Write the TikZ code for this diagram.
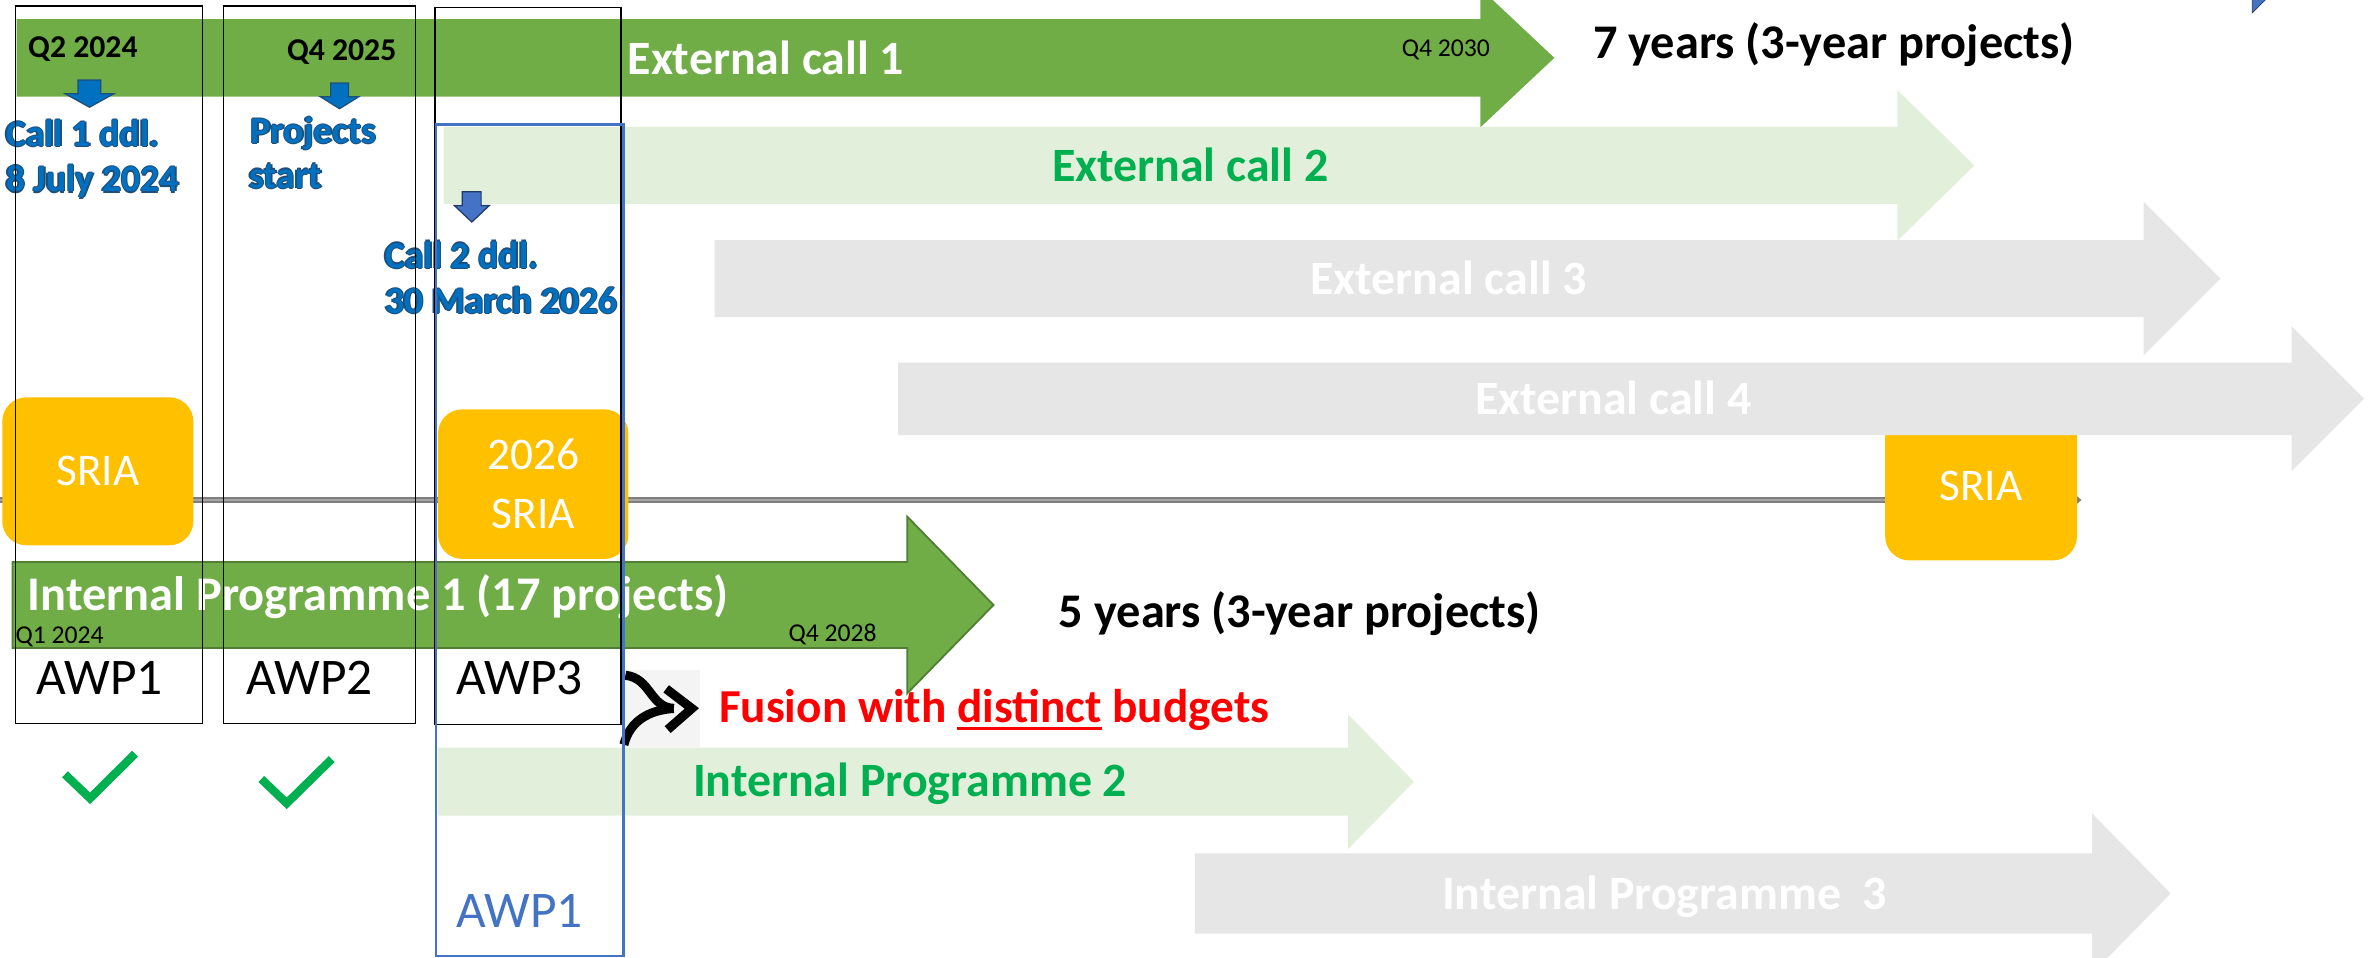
\documentclass[tikz,border=0pt]{standalone}
\usepackage{fontspec}
\setmainfont{Carlito}
\usetikzlibrary{arrows.meta}
\definecolor{gA}{HTML}{70AD47}
\definecolor{gAd}{HTML}{507E32}
\definecolor{gL}{HTML}{E2EFDA}
\definecolor{grL}{HTML}{E7E6E6}
\definecolor{gT}{HTML}{00B050}
\definecolor{yel}{HTML}{FFC000}
\definecolor{bBox}{HTML}{4472C4}
\definecolor{bCall}{HTML}{0070C0}
\definecolor{bDark}{HTML}{1F4E79}
\definecolor{bDarkB}{HTML}{203864}
\definecolor{lineG}{HTML}{7F7F7F}
\definecolor{lineL}{HTML}{A6A6A6}
\definecolor{fusebg}{HTML}{F4F4F4}
\definecolor{redT}{HTML}{FF0000}
% block arrow: style, x0, x1 (head base), xt (tip), yc, body half, head half
\newcommand\blockarrow[7]{%
  \path[#1] (#2,{#5-#6}) -- (#3,{#5-#6}) -- (#3,{#5-#7}) -- (#4,#5) -- (#3,{#5+#7}) -- (#3,{#5+#6}) -- (#2,{#5+#6}) -- cycle;}
% down arrow: style, shaft left, shaft right, top, head y, head left, head right, tip y
\newcommand\downblock[8]{%
  \path[#1] (#2,#4) -- (#3,#4) -- (#3,#5) -- (#7,#5) -- ({(#6+#7)/2},#8) -- (#6,#5) -- (#2,#5) -- cycle;}
\newcommand\outltxt[1]{\rlap{\color{bDark}\kern-.9pt#1}\rlap{\color{bDark}\kern.9pt#1}\rlap{\color{bDark}\raisebox{.9pt}{#1}}\rlap{\color{bDark}\raisebox{-.9pt}{#1}}#1}
\newcommand\ulx[1]{\setbox0=\hbox{#1}\rlap{\rule[-5.2pt]{\wd0}{2.2pt}}\box0\relax}
\tikzset{
  lbl/.style={inner sep=0pt, outer sep=0pt},
  big/.style={lbl, font=\fontsize{31.7}{38}\selectfont\bfseries},
  bigger/.style={lbl, font=\fontsize{32}{38}\selectfont\bfseries},
  smallq/.style={lbl, font=\fontsize{17}{20}\selectfont},
  boldq/.style={lbl, font=\fontsize{21}{25}\selectfont\bfseries},
  calltxt/.style={lbl, font=\fontsize{25}{30}\selectfont\bfseries, text=bCall, anchor=base west},
  awp/.style={lbl, font=\fontsize{34}{40}\selectfont, anchor=base},
  sria/.style={fill=yel, rounded corners=16pt, inner sep=0pt, text=white,
    font=\fontsize{30}{39}\selectfont, align=center},
  boxK/.style={draw=black, line width=1pt},
  boxB/.style={draw=bBox, line width=1.7pt},
  check/.style={draw=gT, line width=5.5pt},
  fusearrow/.style={draw=black, line width=6pt},
}
\begin{document}
\begin{tikzpicture}[x=1pt,y=-1pt]
\path[use as bounding box] (0,0) rectangle (1568.3,634.2);
\clip (0,0) rectangle (1568.3,634.2);

% timeline
\coordinate (tlS) at (0,331);
\coordinate (tlE) at (1378,331);
\draw[lineG, line width=4.5pt, -{Triangle[length=5pt,width=8pt]}] (tlS) -- (tlE);
\draw[lineL, line width=1.4pt, shorten >=6pt] (tlS) -- (tlE);

% SRIA boxes
\node[sria, minimum width=126.5pt, minimum height=98pt] (sriaA) at (64.75,312) {SRIA};
\node[sria, minimum width=126pt, minimum height=99pt] (sriaB) at (353,320.5) {2026\\SRIA};
\node[sria, minimum width=127pt, minimum height=98pt] (sriaC) at (1311.5,322) {SRIA};

% external calls
\blockarrow{fill=gA}{11}{980}{1029}{38.3}{25.7}{46}
\blockarrow{fill=gL}{293.7}{1256}{1307}{109.5}{25.5}{50}
\blockarrow{fill=grL}{473}{1419}{1470}{184.5}{25.5}{51}
\blockarrow{fill=grL}{594.5}{1517}{1565}{264}{24}{48}

% internal programmes
\blockarrow{fill=gA, draw=gAd, line width=1.2pt}{8.3}{600.6}{657.7}{400.5}{28.5}{58.5}
\blockarrow{fill=gL}{290}{892.5}{936}{517.5}{22.5}{44.5}
\blockarrow{fill=grL}{791}{1385}{1437}{591.5}{26.5}{53}

% texts on arrows
\node[big, text=white, anchor=base] (ec1) at (507,49) {External call 1};
\node[big, text=gT, anchor=base] (ec2) at (788,120) {External call 2};
\node[big, text=white, anchor=base] (ec3) at (959,195) {External call 3};
\node[big, text=white, anchor=base] (ec4) at (1068,274.5) {External call 4};
\node[smallq, anchor=base west] (q2030) at (928,37.5) {Q4 2030};
\node[boldq, anchor=base west] (q2024) at (18.7,38) {Q2 2024};
\node[boldq, anchor=base west] (q2025) at (190,40) {Q4 2025};
\node[bigger, anchor=base west] (y7) at (1054.6,39) {7 years (3-year projects)};

\node[bigger, text=white, anchor=base west] (ip1) at (18.3,404) {Internal Programme 1 (17 projects)};
\node[smallq, anchor=base west] (q2024b) at (10.3,426) {Q1 2024};
\node[smallq, anchor=base west] (q2028) at (522,425) {Q4 2028};
\node[bigger, anchor=base west] (y5) at (701,415.6) {5 years (3-year projects)};
\node[big, text=gT, anchor=base] (ip2) at (602.5,527) {Internal Programme 2};
\node[big, text=white, anchor=base] (ip3) at (1102,602) {Internal Programme\ \ 3};

% call annotations
\downblock{fill=bCall, draw=bDark, line width=0.8pt}{51.6}{66.7}{53}{62}{43}{75.5}{71}
\downblock{fill=bCall, draw=bDark, line width=0.8pt}{219}{230.7}{55}{64}{212}{237.6}{72}
\downblock{fill=bBox, draw=bDarkB, line width=0.8pt}{306}{318.5}{127}{136}{300.7}{324}{147}
\node[calltxt] (c1a) at (4,97) {\outltxt{Call 1 ddl.}};
\node[calltxt] (c1b) at (4,127) {\outltxt{8 July 2024}};
\node[calltxt] (ps1) at (166,95) {\outltxt{Projects}};
\node[calltxt] (ps2) at (165,124.6) {\outltxt{start}};
\node[calltxt] (c2a) at (255,177.6) {\outltxt{Call 2 ddl.}};
\node[calltxt] (c2b) at (255,207.5) {\outltxt{30 March 2026}};

% AWP labels
\node[awp] (awp1) at (66,460) {AWP1};
\node[awp] (awp2) at (205,460) {AWP2};
\node[awp] (awp3) at (344,460) {AWP3};
\node[awp, text=bBox] (awpB) at (344,614) {AWP1};

% fusion
\fill[fusebg] (412.6,443.6) rectangle (463.5,494.6);
\coordinate (fT) at (414,447);
\coordinate (fB) at (413,493);
\coordinate (fJ) at (446,469);
\coordinate (fU) at (441,456);
\coordinate (fTip) at (458,469);
\coordinate (fL) at (442,483);
\draw[fusearrow] (fT) .. controls (431,449) and (430,468) .. (fJ);
\draw[fusearrow] (fB) .. controls (417,477) and (430,470) .. (fJ);
\draw[fusearrow, line join=miter] (fU) -- (fTip) -- (fL);
\node[lbl, font=\fontsize{31.3}{37}\selectfont\bfseries, text=redT, anchor=base west] (fusion) at (476,478) {Fusion with \ulx{distinct} budgets};

% checkmarks
\draw[check] (43,512.6) -- (59.6,528.5) -- (89.4,499);
\draw[check] (173,515.7) -- (189.8,531.8) -- (219.6,502.5);

% column frames
\draw[boxK] (10.2,4) rectangle (134,479);
\draw[boxK] (148,4) rectangle (275,479);
\draw[boxK] (288,5) rectangle (411,479.5);
\draw[boxB] (288.5,82.5) rectangle (412.8,632.8);

% top-right fragment
\fill[bBox, draw=bDarkB, line width=0.5pt] (1491,-1) -- (1500.5,-1) -- (1491,8.5) -- cycle;
\end{tikzpicture}
\end{document}
